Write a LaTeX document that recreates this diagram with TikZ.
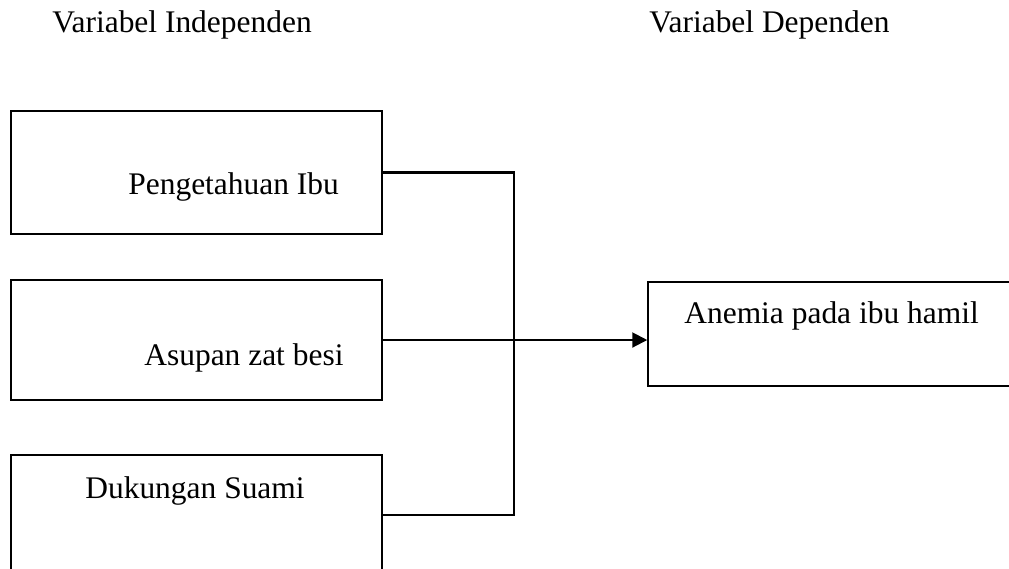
\documentclass[tikz,border=0pt]{standalone}
\usepackage{fontspec}
\setmainfont{Liberation Serif}
\usetikzlibrary{arrows.meta}
\begin{document}
\begin{tikzpicture}
[font=\fontsize{17.9}{21}\selectfont]
\tikzstyle{box}=[rectangle, draw, line width=0.85pt, inner sep=0mm, minimum width=7.42cm]
\tikzstyle{txt}=[anchor=base west, inner sep=0mm]
\tikzstyle{link}=[line width=1.15pt]
\path[use as bounding box, clip] (0,0) rectangle (20.18,-11.36);

\node[txt]	(hind)	at (1.04,-0.64)	{Variabel Independen};
\node[txt]	(hdep)	at (12.98,-0.64)	{Variabel Dependen};

\node[box, minimum height=2.46cm]	(ibu)	at (3.93,-3.45)	{};
\node[box, minimum height=2.40cm]	(zat)	at (3.93,-6.80)	{};
\node[box, minimum height=2.40cm]	(suami)	at (3.93,-10.30)	{};
\node[box, minimum height=2.08cm, minimum width=7.54cm]	(anemia)	at (16.73,-6.68)	{};

\node[txt]	(tibu)	at (2.56,-3.88)	{Pengetahuan Ibu};
\node[txt]	(tzat)	at (2.88,-7.30)	{Asupan zat besi};
\node[txt]	(tsuami)	at (1.70,-9.96)	{Dukungan Suami};
\node[txt]	(tanemia)	at (13.68,-6.46)	{Anemia pada ibu hamil};

\coordinate	(j)	at (10.28,-6.80);

\draw[link]	(ibu.east) -| (j);
\draw[link]	(suami.east) -| (j);
\draw[line width=0.7pt]	(zat.east) -- (j);
\draw[link,-{Triangle[length=0.3cm,width=0.3cm]}]	(j) -- (j -| anemia.west);

\end{tikzpicture}
\end{document}
